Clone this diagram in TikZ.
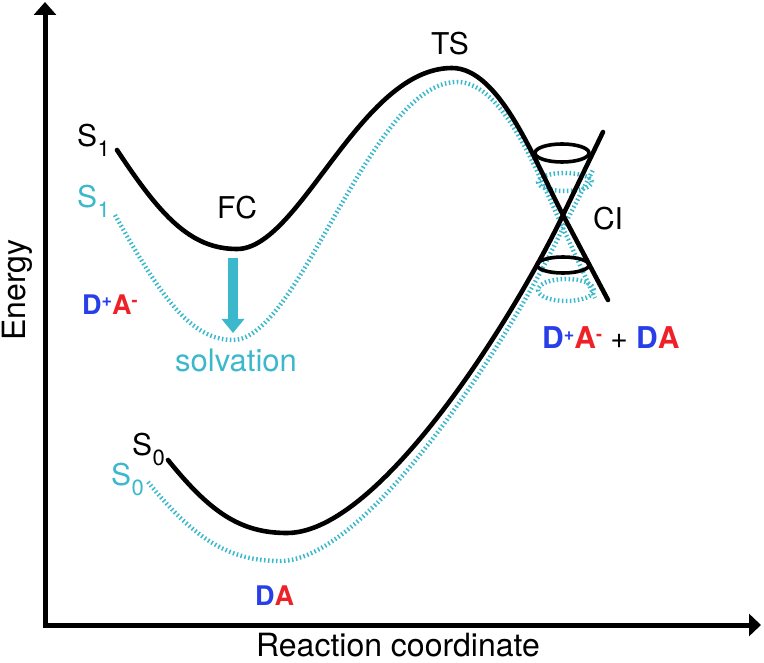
\documentclass[tikz,border=0pt]{standalone}
\usepackage{fontspec}
\setmainfont{TeX Gyre Heros}
\usetikzlibrary{arrows.meta}
\definecolor{cyanc}{RGB}{60,184,204}
\definecolor{dblue}{RGB}{40,62,232}
\definecolor{ared}{RGB}{238,32,40}
\newcommand{\Ssub}[1]{S\kern0.5pt\raisebox{-10pt}{\fontsize{22}{22}\selectfont #1}}
\newcommand{\supr}[1]{\raisebox{8.5pt}{\fontsize{18}{18}\selectfont #1}}
\begin{document}
\begin{tikzpicture}[x=1pt,y=-1pt,
  lbl/.style={inner sep=0pt,font=\fontsize{30}{30}\selectfont},
  big/.style={inner sep=0pt,font=\fontsize{32}{32}\selectfont},
  chem/.style={inner sep=0pt,anchor=base west,font=\fontsize{27}{27}\selectfont\bfseries},
  blk/.style={line width=4.6pt,line cap=round},
  dots/.style={cyanc,line width=4.4pt,dash pattern=on 1.5pt off 2.5pt},
  axis/.style={line width=5pt,line join=miter}]
\useasboundingbox (0,0) rectangle (764,663);
% axes
\coordinate (ytop) at (45,2);
\coordinate (origin) at (45,625);
\coordinate (xend) at (761,625);
\draw[axis,{Triangle[width=22pt,length=13pt]}-{Triangle[width=22pt,length=12pt]}] (ytop) -- (origin) -- (xend);
\node[big,rotate=90] (energy) at (17,290) {Energy};
\node[big,anchor=base] (rc) at (398,656) {Reaction coordinate};
% dotted (solvated) surfaces
\draw[dots] (115,215) .. controls (160,295) and (190,340) .. (233,340)
  .. controls (300,340) and (370,82) .. (457,82)
  .. controls (505,82) and (540,180) .. (563,228) -- (595,298);
\draw[dots] (148,482) .. controls (195,540) and (230,561) .. (280,561)
  .. controls (370,561) and (515,330) .. (563,228) -- (593,170);
\draw[dots] (565,182) ellipse [x radius=27pt,y radius=9pt];
\draw[dots] (566,290) ellipse [x radius=28pt,y radius=11pt];
% black surfaces
\draw[blk] (117,150) .. controls (160,215) and (190,249) .. (237,249)
  .. controls (300,249) and (360,68) .. (452,68)
  .. controls (500,68) and (535,162) .. (563,215) -- (608,300);
\draw[blk] (168,460) .. controls (210,512) and (240,533) .. (287,533)
  .. controls (380,533) and (515,315) .. (563,215) -- (603,132);
\draw[line width=3.6pt] (562,153) ellipse [x radius=27pt,y radius=9pt];
\draw[line width=3.6pt] (563,265) ellipse [x radius=26pt,y radius=8pt];
% solvation arrow
\coordinate (fcmin) at (233,258);
\coordinate (solmin) at (233,333);
\draw[cyanc,line width=10pt,-{Triangle[width=22pt,length=14pt]}] (fcmin) -- (solmin);
% labels
\node[lbl,anchor=base west] (s1) at (77,147) {\Ssub{1}};
\node[lbl,anchor=base west,text=cyanc] (s1b) at (77,208) {\Ssub{1}};
\node[lbl,anchor=base west] (s0) at (132,455) {\Ssub{0}};
\node[lbl,anchor=base west,text=cyanc] (s0b) at (111,485) {\Ssub{0}};
\node[lbl] (fc) at (237,208) {FC};
\node[lbl] (ts) at (450,44) {TS};
\node[lbl] (ci) at (608,219) {CI};
\node[inner sep=0pt,anchor=base,text=cyanc,font=\fontsize{31}{31}\selectfont] (solv) at (236,372) {solvation};
\node[chem] (dpam) at (82,315)
  {\textcolor{dblue}{D\supr{+}}\textcolor{ared}{A\supr{-}}};
\node[chem] (da) at (255,605)
  {\textcolor{dblue}{D}\textcolor{ared}{A}};
\node[chem,font=\fontsize{30}{30}\selectfont\bfseries] (mix) at (542,349)
  {\textcolor{dblue}{D\supr{+}}\textcolor{ared}{A\supr{-}} {\mdseries+} \textcolor{dblue}{D}\textcolor{ared}{A}};
\end{tikzpicture}
\end{document}
